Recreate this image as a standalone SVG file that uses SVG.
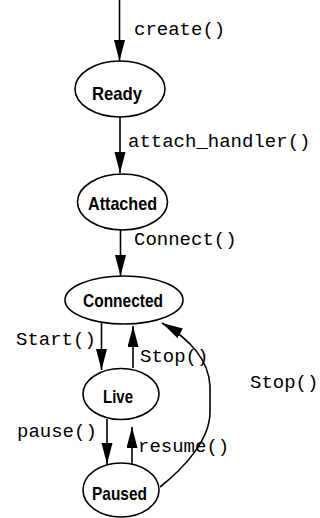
<svg xmlns="http://www.w3.org/2000/svg" width="320" height="518" viewBox="0 0 320 518">
  <style>
    .state { fill: #fff; stroke: #000; stroke-width: 1.6; }
    .name { font-family: "Liberation Sans", Arial, sans-serif; font-weight: bold; font-size: 19px; text-anchor: middle; fill: #000; }
    .edge { fill: none; stroke: #000; stroke-width: 1.6; marker-end: url(#head); }
    .call { font-family: "Liberation Mono", "Courier New", monospace; font-size: 19px; fill: #000; }
  </style>
  <defs>
    <marker id="head" markerUnits="userSpaceOnUse" markerWidth="22" markerHeight="12" refX="21" refY="5.5" orient="auto">
      <path d="M0,0 L21,5.5 L0,11 Z" fill="#000"/>
    </marker>
  </defs>

  <g id="connectors">
    <line class="edge" x1="119.5" y1="0" x2="119.5" y2="61"/>
    <line class="edge" x1="120" y1="117" x2="120" y2="173"/>
    <line class="edge" x1="120.5" y1="230" x2="120.5" y2="276"/>
    <line class="edge" x1="101.5" y1="322" x2="101.5" y2="370"/>
    <line class="edge" x1="133" y1="368" x2="133" y2="326"/>
    <line class="edge" x1="107" y1="419" x2="107" y2="464"/>
    <line class="edge" x1="132" y1="464" x2="132" y2="427"/>
    <path class="edge" d="M160,487 C184,468 210,440 210,412 L210,386 C209,362 192,340 162,323"/>
    <text class="call" x="134" y="35">create()</text>
    <text class="call" x="128" y="147">attach_handler()</text>
    <text class="call" x="134" y="245">Connect()</text>
    <text class="call" x="16" y="345">Start()</text>
    <text class="call" x="140" y="362">Stop()</text>
    <text class="call" x="250" y="388">Stop()</text>
    <text class="call" x="17" y="437">pause()</text>
    <text class="call" x="138" y="452">resume()</text>
  </g>

  <g id="ready">
    <ellipse class="state" cx="120" cy="89" rx="45" ry="28"/>
    <text class="name" x="117" y="100" textLength="50" lengthAdjust="spacingAndGlyphs">Ready</text>
  </g>
  <g id="attached">
    <ellipse class="state" cx="122.5" cy="202" rx="45" ry="28"/>
    <text class="name" x="122.5" y="210" textLength="69" lengthAdjust="spacingAndGlyphs">Attached</text>
  </g>
  <g id="connected">
    <ellipse class="state" cx="124" cy="300" rx="59" ry="24"/>
    <text class="name" x="123" y="307" textLength="80" lengthAdjust="spacingAndGlyphs">Connected</text>
  </g>
  <g id="live">
    <ellipse class="state" cx="121" cy="394" rx="38" ry="25.5"/>
    <text class="name" x="118" y="403" textLength="30" lengthAdjust="spacingAndGlyphs">Live</text>
  </g>
  <g id="paused">
    <ellipse class="state" cx="121" cy="490" rx="38" ry="27"/>
    <text class="name" x="119.5" y="500" textLength="55" lengthAdjust="spacingAndGlyphs">Paused</text>
  </g>
</svg>
